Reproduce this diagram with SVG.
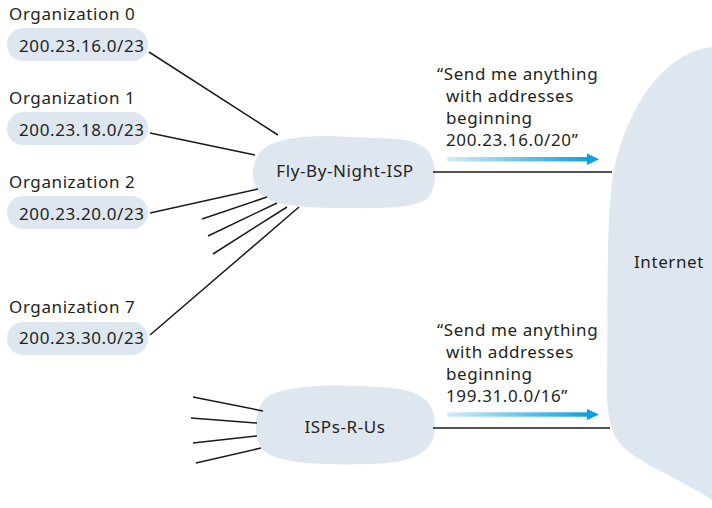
<svg xmlns="http://www.w3.org/2000/svg" width="712" height="508" viewBox="0 0 712 508">
<defs>
<linearGradient id="blue" x1="0" y1="0" x2="1" y2="0">
<stop offset="0" stop-color="#d2ecf9"/>
<stop offset="1" stop-color="#0ea0de"/>
</linearGradient>
<style>
text{font-family:"Noto Sans","Open Sans","DejaVu Sans",sans-serif;font-size:17px;letter-spacing:0.6px;fill:#231f20}
.cloud{fill:#dee7f0}
.ln{stroke:#1a1a1a;stroke-width:1.5;fill:none}
.mid{text-anchor:middle}
</style>
</defs>
<g id="internet">
<path class="cloud" d="M 712,47 C 665,52 628,105 614,170 C 606,210 608,300 607,380 C 606,420 612,440 630,453 C 655,470 690,485 712,500 Z"/>
<text x="669" y="268" class="mid">Internet</text>
</g>
<g id="org0">
<text x="9" y="20">Organization 0</text>
<rect class="cloud" x="7" y="28" width="141" height="33" rx="16"/>
<text x="19" y="52">200.23.16.0/23</text>
</g>
<g id="org1">
<text x="9" y="104">Organization 1</text>
<rect class="cloud" x="7" y="112" width="141" height="33" rx="16"/>
<text x="19" y="136">200.23.18.0/23</text>
</g>
<g id="org2">
<text x="9" y="188">Organization 2</text>
<rect class="cloud" x="7" y="196" width="141" height="33" rx="16"/>
<text x="19" y="220">200.23.20.0/23</text>
</g>
<g id="org7">
<text x="9" y="313">Organization 7</text>
<rect class="cloud" x="7" y="322" width="141" height="33" rx="16"/>
<text x="19" y="344">200.23.30.0/23</text>
</g>
<g id="fly-by-night-isp">
<path class="cloud" d="M 262,150 C 275,138 310,134 350,137 C 385,139 410,136 425,148 C 438,160 438,185 428,198 C 415,210 370,208 340,208 C 300,208 275,205 262,195 C 250,185 250,162 262,150 Z"/>
<text x="345" y="177" class="mid">Fly-By-Night-ISP</text>
</g>
<g id="isps-r-us">
<path class="cloud" d="M 270,395 C 295,383 345,385 380,387 C 420,389 435,400 435,425 C 435,455 410,463 370,464 C 330,465 285,465 265,452 C 252,442 252,405 270,395 Z"/>
<text x="345" y="433" class="mid">ISPs-R-Us</text>
</g>
<g id="connectors">
<line class="ln" x1="149" y1="52" x2="278" y2="135"/>
<line class="ln" x1="150" y1="133" x2="255" y2="155"/>
<line class="ln" x1="150" y1="213" x2="258" y2="189"/>
<line class="ln" x1="202" y1="219" x2="267" y2="197"/>
<line class="ln" x1="208" y1="236" x2="277" y2="203"/>
<line class="ln" x1="213" y1="254" x2="287" y2="207"/>
<line class="ln" x1="150" y1="335" x2="299" y2="207"/>
<line class="ln" x1="433" y1="172" x2="612" y2="172"/>
<line class="ln" x1="193" y1="397" x2="263" y2="411"/>
<line class="ln" x1="191" y1="418" x2="257" y2="423"/>
<line class="ln" x1="193" y1="443" x2="257" y2="436"/>
<line class="ln" x1="196" y1="463" x2="261" y2="448"/>
<line class="ln" x1="433" y1="428" x2="610" y2="428"/>
</g>
<g id="advert1">
<text x="437" y="80">“Send me anything</text>
<text x="446" y="102">with addresses</text>
<text x="446" y="124">beginning</text>
<text x="446" y="146">200.23.16.0/20”</text>
<rect x="447" y="157" width="141" height="4.4" fill="url(#blue)"/>
<polygon points="587,153.5 599,159.2 587,165" fill="#0ea0de"/>
</g>
<g id="advert2">
<text x="437" y="336">“Send me anything</text>
<text x="446" y="358">with addresses</text>
<text x="446" y="380">beginning</text>
<text x="446" y="402">199.31.0.0/16”</text>
<rect x="447" y="412.3" width="141" height="4.4" fill="url(#blue)"/>
<polygon points="587,409 599,414.5 587,420" fill="#0ea0de"/>
</g>
</svg>
